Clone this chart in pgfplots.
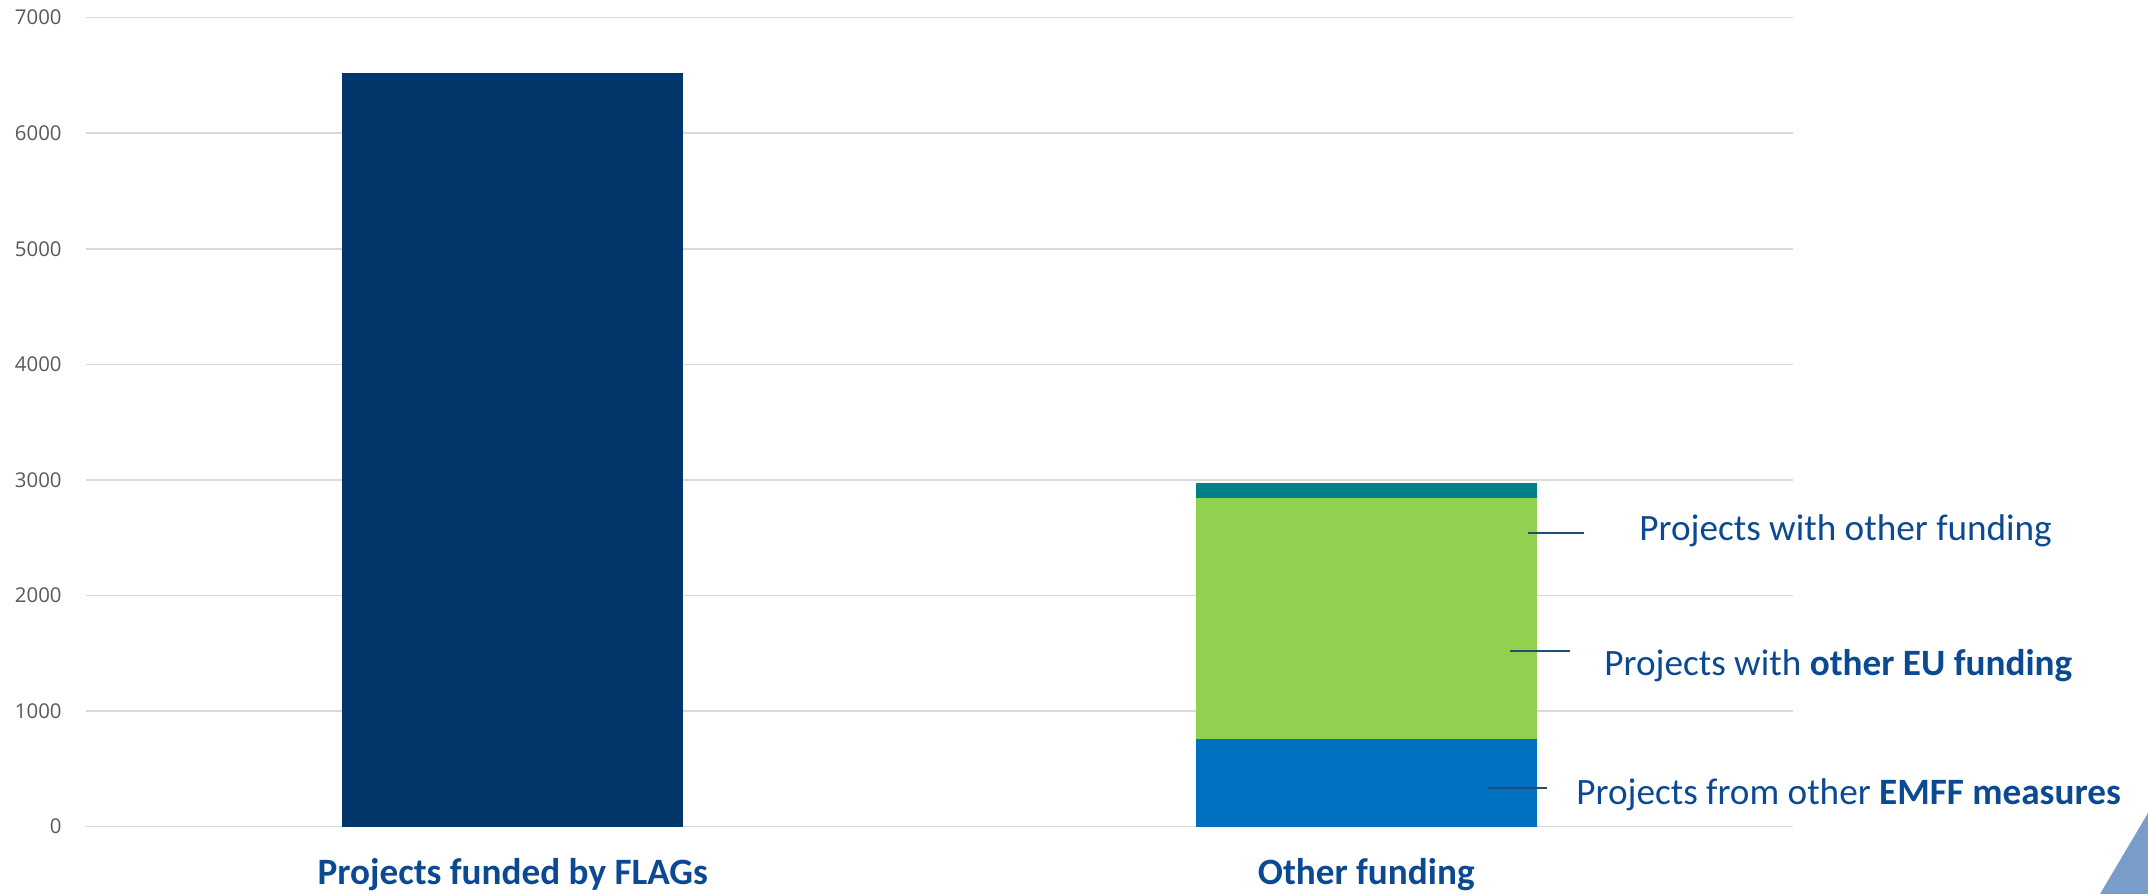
\documentclass[border=0pt]{standalone}
\usepackage{pgfplots}
\pgfplotsset{compat=1.18}
\usepackage{fontspec}
\setmainfont{Carlito}
\newfontfamily\opensans{Open Sans}
\definecolor{navy}{HTML}{03366A}
\definecolor{emffblue}{HTML}{0070C0}
\definecolor{eugreen}{HTML}{92D050}
\definecolor{teal2}{HTML}{00818A}
\definecolor{txtblue}{HTML}{0B4A93}
\definecolor{linecol}{HTML}{1F4E79}
\definecolor{gridgray}{HTML}{D9D9D9}
\definecolor{tickgray}{HTML}{595959}
\definecolor{tri}{HTML}{7A9CC8}
\begin{document}
\begin{tikzpicture}[x=1pt,y=1pt]
\path[use as bounding box] (0,0) rectangle (1074,447);
\fill[tri] (1074,40.5) -- (1050,0) -- (1074,0) -- cycle;
\begin{axis}[
  at={(43pt,33.65pt)}, anchor=south west,
  scale only axis, width=853.5pt, height=404.6pt,
  xmin=-0.5, xmax=1.5, ymin=0, ymax=7000,
  ybar stacked, bar width=0.4,
  xtick={0,1}, xticklabels={Projects funded by FLAGs, Other funding},
  ytick={0,1000,...,7000},
  ymajorgrids, major grid style={gridgray, line width=0.8pt},
  axis line style={draw=none},
  major tick length=0pt,
  scaled y ticks=false,
  /pgf/number format/1000 sep={},
  /pgf/number format/assume math mode=true,
  yticklabel style={font=\opensans\fontsize{10.2}{12}\selectfont, text=tickgray, anchor=east, inner sep=0pt, xshift=-12pt},
  xticklabel style={font=\fontsize{18.6}{22}\selectfont\bfseries, text=txtblue, anchor=base, inner sep=0pt, yshift=-29pt},
  clip=false,
]
\addplot[fill=navy, draw=none] coordinates {(0,6523) (1,0)};
\addplot[fill=emffblue, draw=none] coordinates {(0,0) (1,760)};
\addplot[fill=eugreen, draw=none] coordinates {(0,0) (1,2083)};
\addplot[fill=teal2, draw=none] coordinates {(0,0) (1,130)};
\coordinate (a1) at (axis cs:1.1895,2541);
\coordinate (b1) at (axis cs:1.2551,2541);
\coordinate (a2) at (axis cs:1.1684,1520);
\coordinate (b2) at (axis cs:1.2387,1520);
\coordinate (a3) at (axis cs:1.1427,335);
\coordinate (b3) at (axis cs:1.2118,335);
\node[anchor=base west, inner sep=0pt, text=txtblue, font=\fontsize{18.6}{22}\selectfont] at (axis cs:1.3196,2474) {Projects with other funding};
\node[anchor=base west, inner sep=0pt, text=txtblue, font=\fontsize{18.6}{22}\selectfont] at (axis cs:1.2786,1312) {Projects with \textbf{other EU funding}};
\node[anchor=base west, inner sep=0pt, text=txtblue, font=\fontsize{18.6}{22}\selectfont] at (axis cs:1.2458,196) {Projects from other \textbf{EMFF measures}};
\end{axis}
\draw[linecol, line width=0.7pt] (a1) -- (b1);
\draw[linecol, line width=0.7pt] (a2) -- (b2);
\draw[linecol, line width=0.7pt] (a3) -- (b3);
\end{tikzpicture}
\end{document}
